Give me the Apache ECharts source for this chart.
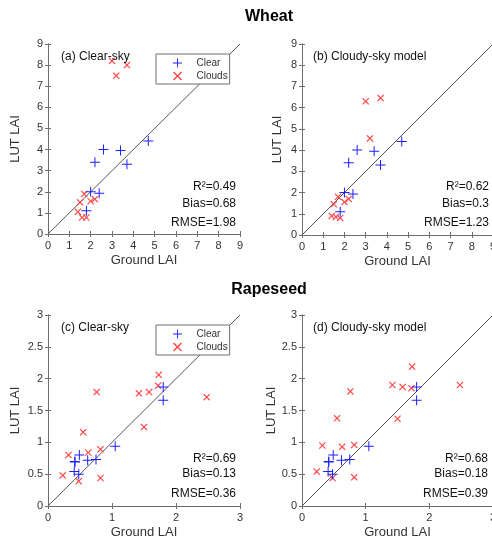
<!DOCTYPE html>
<html>
<head>
<meta charset="utf-8">
<script src="https://cdn.jsdelivr.net/npm/echarts@6/dist/echarts.min.js"></script>
<style>
html,body{margin:0;padding:0;background:#fff;overflow:hidden;}
#chart{width:492px;height:541px;}
</style>
</head>
<body>
<div id="chart"></div>
<script>
// ---- Data ----
const wheatClearGround = [4.7, 2.6, 3.4, 2.2, 3.7, 2.0, 2.4, 1.8];
const wheatClearLUT    = [4.4, 4.0, 3.95, 3.4, 3.3, 2.0, 1.93, 1.1];
const wheatCloudGround = [3.0, 3.7, 3.2, 1.7, 1.5, 2.2, 2.0, 1.4, 1.6, 1.8];
const wheatCloudLUTClearSky = [8.2, 8.0, 7.5, 1.9, 1.5, 1.65, 1.55, 1.05, 0.78, 0.78];
const wheatCloudLUTCloudyModel = [6.3, 6.45, 4.55, 1.8, 1.45, 1.7, 1.55, 0.9, 0.85, 0.8];

const rapeClearGround = [0.42, 0.42, 0.49, 0.62, 0.75, 1.05, 0.41, 0.48, 1.8, 1.8];
const rapeClearLUT    = [0.69, 0.70, 0.80, 0.72, 0.73, 0.94, 0.54, 0.50, 1.87, 1.66];
const rapeCloudGround = [1.73, 1.72, 0.76, 1.42, 1.58, 2.48, 1.50, 0.55, 0.82, 0.63, 0.32, 0.23, 0.82, 0.48];
const rapeCloudLUTClearSky = [2.06, 1.89, 1.79, 1.77, 1.79, 1.71, 1.24, 1.16, 0.89, 0.84, 0.80, 0.48, 0.44, 0.39];
const rapeCloudLUTCloudyModel = [2.19, 1.85, 1.80, 1.90, 1.87, 1.90, 1.37, 1.38, 0.96, 0.93, 0.95, 0.54, 0.45, 0.44];

const panelTitles = ['(a) Clear-sky', '(b) Cloudy-sky model', '(c) Clear-sky', '(d) Cloudy-sky model'];
const statsR2   = ['0.49', '0.62', '0.69', '0.68'];
const statsBias = ['0.68', '0.3', '0.13', '0.18'];
const statsRMSE = ['1.98', '1.23', '0.36', '0.39'];
const cropTitles = ['Wheat', 'Rapeseed'];
const legendNames = ['Clear', 'Clouds'];

// ---- Layout ----
const FONT = '"Liberation Sans", Arial, sans-serif';
const grids = [
  {left: 48, top: 44, width: 192, height: 190},
  {left: 302, top: 44, width: 191, height: 191},
  {left: 48, top: 315, width: 192, height: 191},
  {left: 302, top: 315, width: 191, height: 191}
];
const axisRange = [
  {xmax: 9, xint: 1, ymax: 9, yint: 1},
  {xmax: 9, xint: 1, ymax: 9, yint: 1},
  {xmax: 3, xint: 1, ymax: 3, yint: 0.5},
  {xmax: 3, xint: 1, ymax: 3, yint: 0.5}
];
const frameColor = '#6e6e6e';
const labelColor = '#333';
const yNameGap = [26, 18, 26, 22];

const xAxes = [], yAxes = [];
axisRange.forEach((r, i) => {
  const common = {gridIndex: i, type: 'value', min: 0, splitLine: {show: false},
    axisLine: {show: true, lineStyle: {color: frameColor, width: 1}},
    axisTick: {show: true, inside: true, length: 3, lineStyle: {color: frameColor}}};
  xAxes.push(Object.assign({}, common, {position: 'bottom', max: r.xmax, interval: r.xint,
    name: 'Ground LAI', nameLocation: 'middle', nameGap: 20,
    nameTextStyle: {fontFamily: FONT, fontSize: 13, color: labelColor},
    axisLabel: {fontFamily: FONT, fontSize: 11, color: labelColor, margin: 6}}));
  xAxes.push(Object.assign({}, common, {position: 'top', max: r.xmax, interval: r.xint, axisLabel: {show: false}}));
  yAxes.push(Object.assign({}, common, {position: 'left', max: r.ymax, interval: r.yint,
    name: 'LUT LAI', nameLocation: 'middle', nameGap: yNameGap[i],
    nameTextStyle: {fontFamily: FONT, fontSize: 13, color: labelColor},
    axisLabel: {fontFamily: FONT, fontSize: 11, color: labelColor, margin: 5}}));
  yAxes.push(Object.assign({}, common, {position: 'right', max: r.ymax, interval: r.yint, axisLabel: {show: false}}));
});

const plusPath = 'path://M4.5,0h1v4.5h4.5v1h-4.5v4.5h-1v-4.5h-4.5v-1h4.5z';
const crossPath = 'path://M0,1.2L1.2,0L5,3.8L8.8,0L10,1.2L6.2,5L10,8.8L8.8,10L5,6.2L1.2,10L0,8.8L3.8,5Z';
const zip = (a, b) => a.map((v, k) => [v, b[k]]);

const panelData = [
  {cg: wheatClearGround, cl: wheatClearLUT, dg: wheatCloudGround, dl: wheatCloudLUTClearSky, m: 9},
  {cg: wheatClearGround, cl: wheatClearLUT, dg: wheatCloudGround, dl: wheatCloudLUTCloudyModel, m: 9},
  {cg: rapeClearGround, cl: rapeClearLUT, dg: rapeCloudGround, dl: rapeCloudLUTClearSky, m: 3},
  {cg: rapeClearGround, cl: rapeClearLUT, dg: rapeCloudGround, dl: rapeCloudLUTCloudyModel, m: 3}
];

const series = [];
panelData.forEach((p, i) => {
  series.push({type: 'line', xAxisIndex: 2*i, yAxisIndex: 2*i, data: [[0,0],[p.m,p.m]],
    symbol: 'none', silent: true, lineStyle: {color: '#555', width: 1}, z: 1});
  series.push({name: legendNames[0], type: 'scatter', xAxisIndex: 2*i, yAxisIndex: 2*i,
    data: zip(p.cg, p.cl), symbol: plusPath, symbolSize: 10,
    itemStyle: {color: '#1f1fff', opacity: 1}, z: 3});
  series.push({name: legendNames[1], type: 'scatter', xAxisIndex: 2*i, yAxisIndex: 2*i,
    data: zip(p.dg, p.dl), symbol: crossPath, symbolSize: 7,
    itemStyle: {color: '#ff4a4a', opacity: 1}, z: 2});
});

const legendBase = {orient: 'vertical', itemWidth: 10, itemHeight: 9, itemGap: 3,
  padding: [4, 2, 3, 17], backgroundColor: '#fff', borderColor: frameColor, borderWidth: 1,
  borderRadius: 0, selectedMode: false,
  textStyle: {fontFamily: FONT, fontSize: 10, color: labelColor, padding: [0, 0, 0, 9]},
  data: [{name: legendNames[0], icon: plusPath}, {name: legendNames[1], icon: crossPath}] };
const legends = [
  Object.assign({}, legendBase, {left: 156, top: 54}),
  Object.assign({}, legendBase, {left: 156, top: 325})
];

const graphics = [];
const titleLeft = [61, 313, 61, 313];
const titleY = [57, 57, 328, 328];
const statRight = [236, 489, 236, 488];
const statY = [[187, 204, 223], [187, 204, 223], [459, 474, 494], [459, 474, 494]];
panelTitles.forEach((t, i) => {
  graphics.push({type: 'text', x: titleLeft[i], y: titleY[i], z: 10,
    style: {text: t, fill: '#111', font: '12px ' + FONT, align: 'left', verticalAlign: 'middle'}});
  const lines = ['R\u00b2=' + statsR2[i], 'Bias=' + statsBias[i], 'RMSE=' + statsRMSE[i]];
  lines.forEach((l, k) => {
    graphics.push({type: 'text', x: statRight[i], y: statY[i][k], z: 10,
      style: {text: l, fill: '#111', font: '12px ' + FONT, align: 'right', verticalAlign: 'middle'}});
  });
});
graphics.push({type: 'text', x: 269, y: 17, style: {text: cropTitles[0], fill: '#000', font: 'bold 16px ' + FONT, align: 'center', verticalAlign: 'middle'}});
graphics.push({type: 'text', x: 269, y: 290, style: {text: cropTitles[1], fill: '#000', font: 'bold 16px ' + FONT, align: 'center', verticalAlign: 'middle'}});

const chart = echarts.init(document.getElementById('chart'), null, {renderer: 'canvas'});
chart.setOption({
  animation: false,
  backgroundColor: '#fff',
  grid: grids.map(g => Object.assign({containLabel: false, outerBoundsMode: 'none'}, g)),
  xAxis: xAxes,
  yAxis: yAxes,
  legend: legends,
  series: series,
  graphic: graphics
});
</script>
</body>
</html>
